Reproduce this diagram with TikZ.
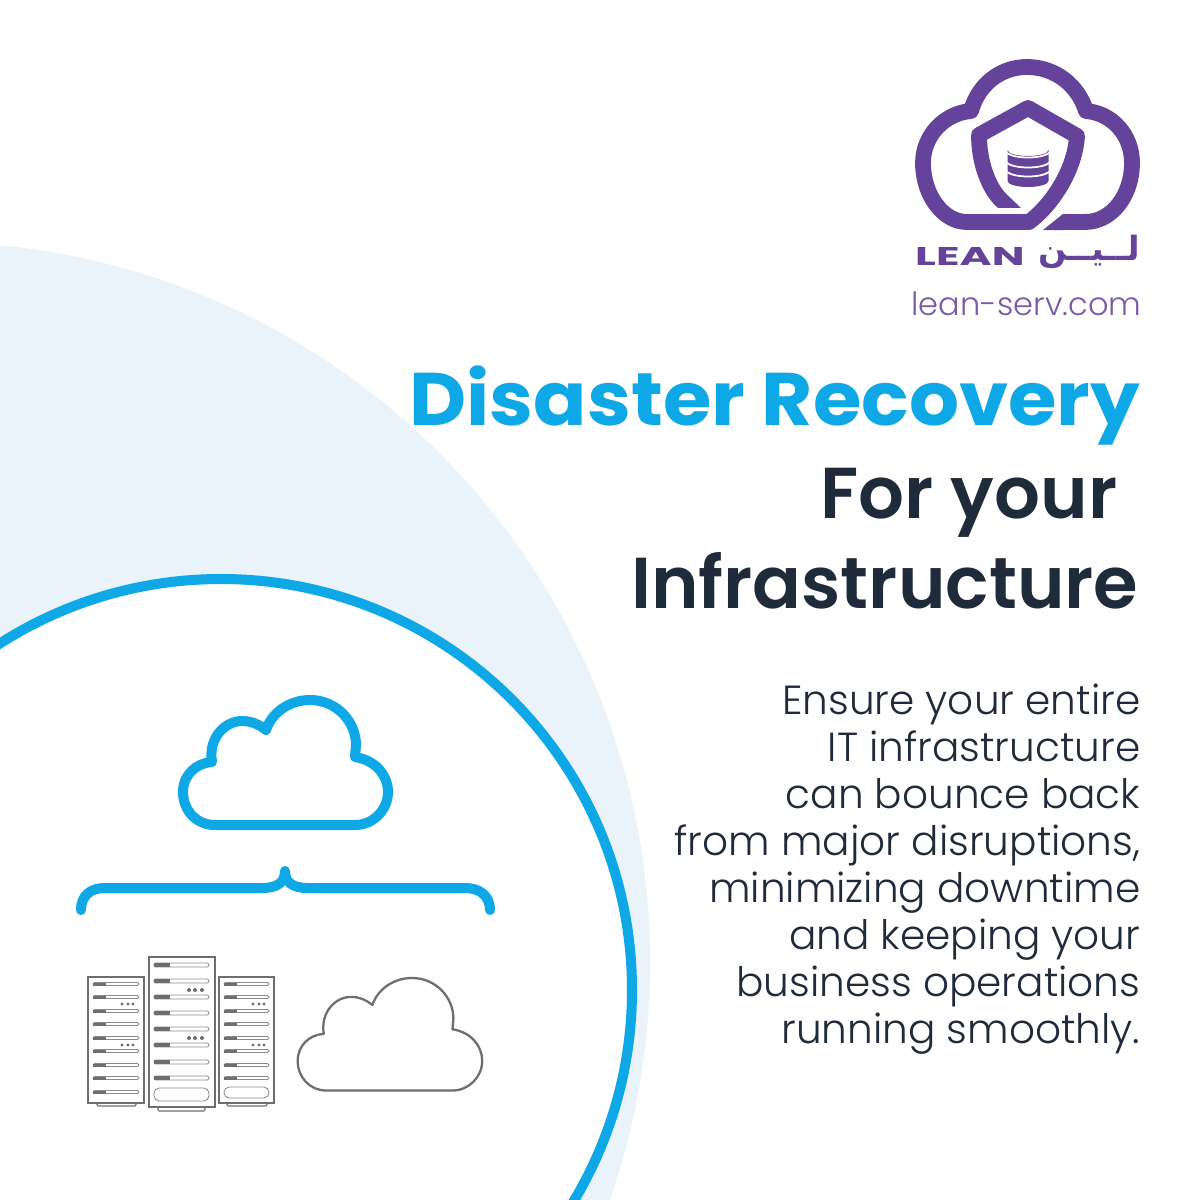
\documentclass[tikz,border=0pt]{standalone}
\usepackage{fontspec}
\usepackage{tikz}
\setmainfont{Poppins}
\newfontfamily\lightfont{Poppins Light}
\newfontfamily\headfont{Poppins SemiBold}
\newfontfamily\logofont{Poppins Bold}
\TeXXeTstate=1
\newfontfamily\arabicfont[Script=Arabic]{DejaVu Sans Bold}
\definecolor{skyblue}{HTML}{0FA8E6}
\definecolor{palecircle}{HTML}{E9F3F9}
\definecolor{leanpurple}{HTML}{65439B}
\definecolor{inkblue}{HTML}{1F2A3A}
\definecolor{rackgrey}{HTML}{6E6E6E}
\newcommand{\cloudoutline}{(215,825) .. controls (196,825) and (183,810) .. (183,792)
  .. controls (183,775) and (196,763) .. (212,762)
  .. controls (208,738) and (225,721) .. (242,721)
  .. controls (252,721) and (260,725) .. (266,730)
  .. controls (272,712) and (290,700) .. (310,700)
  .. controls (337,700) and (356,722) .. (356,745) -- (355,757)
  .. controls (375,760) and (388,775) .. (388,792)
  .. controls (388,810) and (373,825) .. (355,825) -- cycle}
\begin{document}
\begin{tikzpicture}[x=0.01cm, y=-0.01cm]
        \tikzset{cloudline/.style={line join=round}}
        \tikzset{rack/.style={draw=rackgrey, line width=0.6pt, fill=white}}
        \tikzset{slotbar/.style={draw=rackgrey!80, line width=0.25pt, rounded corners=0.4pt}}
        \tikzset{slotmark/.style={fill=rackgrey}}
        \tikzset{headline/.style={anchor=base east, inner sep=0pt, font=\headfont\fontsize{20.5}{24}\selectfont}}
        \useasboundingbox (0,0) rectangle (1200,1200);
        \clip (0,0) rectangle (1200,1200);
        \fill[white] (0,0) rectangle (1200,1200);
        % background circles
        \fill[palecircle] (-70,962) circle [radius=720];
        \draw[skyblue, line width=2.85pt, fill=white] (221,990) circle [radius=411];
        % logo
        \begin{scope}
          \clip (900,50) rectangle (1160,230);
          \draw[leanpurple, line width=4.5pt, line join=round] (1063,222) -- (1085,222)
            .. controls (1112,222) and (1132,195) .. (1132,163)
            .. controls (1132,135) and (1112,113) .. (1086,111)
            .. controls (1078,85) and (1055,67) .. (1027,67)
            .. controls (1000,67) and (978,85) .. (971,111)
            .. controls (945,113) and (923,135) .. (923,163)
            .. controls (923,195) and (943,222) .. (967,222)
            -- (1029,222) .. controls (1052,205) and (1075,170) .. (1077,136)
            -- (1028,108) -- (979,135) .. controls (979,162) and (988,186) .. (1000,199);
          \fill[leanpurple] (1043,230) -- (1063,214) -- (1064,230) -- cycle;
        \end{scope}
        \begin{scope}
          \clip (985,185) rectangle (1030,207);
          \draw[leanpurple, line width=4.5pt] (999,198) -- (1020,218);
        \end{scope}
        \fill[leanpurple] (1007.5,150) arc [start angle=180, end angle=0, x radius=20.5, y radius=6]
          -- (1048.5,181) arc [start angle=0, end angle=-180, x radius=20.5, y radius=-6] -- cycle;
        \foreach \y in {153,163,172} {
          \draw[white, line width=0.5pt] (1007,\y) .. controls (1015,\y+6) and (1041,\y+6) .. (1049,\y);
        }
        \node[leanpurple, anchor=base west, inner sep=0pt, font=\logofont\fontsize{7.3}{9}\selectfont, xscale=1.7] (leanword) at (914,265) {LEAN};
        \node[leanpurple, anchor=base east, inner sep=0pt, font=\arabicfont\fontsize{9.5}{12}\selectfont] (leanarabic) at (1141,260) {\beginR لــيــن\endR};
        \node[leanpurple!88, anchor=base east, inner sep=0pt, font=\lightfont\fontsize{9.1}{11}\selectfont] (website) at (1142,315) {lean-serv.com};
        % headings
        \node[anchor=base east, inner sep=0pt, font=\logofont\fontsize{21.2}{24}\selectfont, xscale=1.055, skyblue] (title) at (1141,425) {Disaster Recovery};
        \node[headline, inkblue] (foryour) at (1118,518) {For your};
        \node[headline, inkblue] (infra) at (1139,608) {Infrastructure};
        \node[anchor=north east, align=right, inner sep=0pt, text=inkblue, font=\lightfont\fontsize{11.55}{13.37}\selectfont] (body) at (1141,683) {Ensure your entire\\IT infrastructure\\can bounce back\\from major disruptions,\\minimizing downtime\\and keeping your\\business operations\\running smoothly.};
        % blue cloud and brace
        \draw[skyblue, line width=2.85pt, cloudline] \cloudoutline;
        \draw[skyblue, line width=2.85pt, line cap=round, line join=round] (81,910) .. controls (81,896) and (90,888) .. (105,888) -- (262,888)
          .. controls (278,888) and (285,882) .. (285,871) .. controls (285,882) and (292,888) .. (308,888) -- (465,888)
          .. controls (480,888) and (490,896) .. (490,910);
        % grey cloud
        \draw[rackgrey, line width=0.65pt, cloudline, shift={(133,348)}, scale=0.9] \cloudoutline;
        % racks
        \draw[rackgrey, line width=0.3pt, rounded corners=0.3pt] (97,1103) rectangle (136,1106);
        \draw[rackgrey, line width=0.3pt, rounded corners=0.3pt] (158,1107) rectangle (205,1111);
        \draw[rackgrey, line width=0.3pt, rounded corners=0.3pt] (227,1103) rectangle (267,1106);
        \draw[rack] (88,977) rectangle (144,1103);
        \draw[rack] (149,957) rectangle (215,1107);
        \draw[rack] (219,977) rectangle (274,1103);
        \foreach \y in {984,997,1011,1024,1038,1051,1065,1078,1092} {
          \draw[slotbar] (93,\y-1.5) rectangle (139,\y+1.5);
          \fill[slotmark] (93,\y-1.5) rectangle (106,\y+1.5);
        }
        \foreach \y in {965,981,997,1013,1029,1045,1062,1078} {
          \draw[slotbar] (154,\y-2) rectangle (209,\y+2);
          \fill[slotmark] (154,\y-2) rectangle (170,\y+2);
        }
        \foreach \y in {984,997,1011,1024,1038,1051,1065,1078} {
          \draw[slotbar] (224,\y-1.5) rectangle (269,\y+1.5);
          \fill[slotmark] (224,\y-1.5) rectangle (237,\y+1.5);
        }
        \draw[slotbar, rounded corners=1.5pt] (154,1088) rectangle (209,1101);
        \draw[slotbar, rounded corners=1.5pt] (224,1087) rectangle (269,1098);
        \foreach \y in {1004,1045} {
          \foreach \x in {122,128,133,253,259,264} {
            \fill[rackgrey] (\x,\y) circle [radius=1.6];
          }
        }
        \foreach \y in {990,1038} {
          \foreach \x in {189,195,202} {
            \fill[rackgrey] (\x,\y) circle [radius=2];
          }
        }
      \end{tikzpicture}
\end{document}
